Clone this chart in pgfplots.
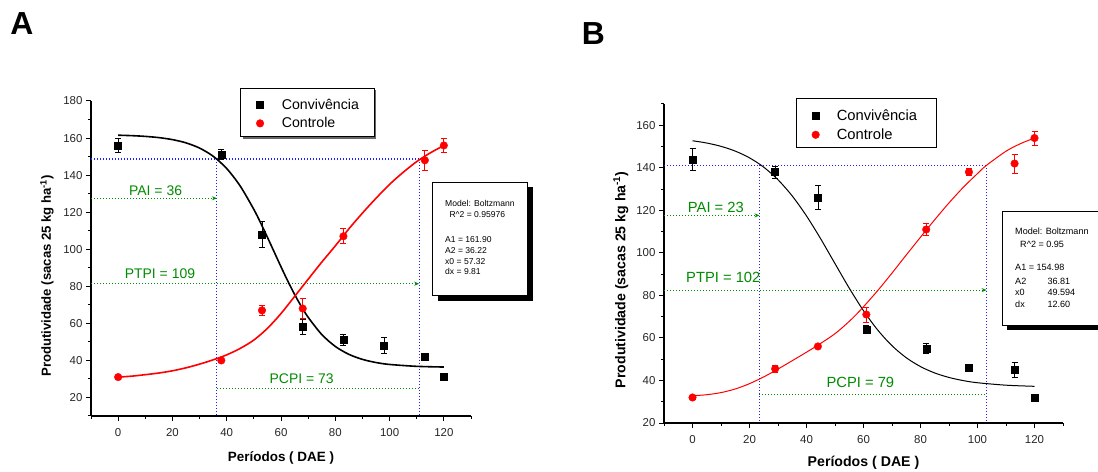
\documentclass[border=0pt]{standalone}
\usepackage{pgfplots}
\pgfplotsset{compat=1.18}
\usepackage{fontspec}
\setmainfont{Liberation Sans}
\usetikzlibrary{arrows.meta}
\definecolor{ored}{RGB}{255,0,0}
\definecolor{ogreen}{RGB}{0,140,0}
\definecolor{oblue}{RGB}{30,30,255}
\pgfplotsset{
 panel/.style={
  scale only axis,
  axis x line*=bottom, axis y line*=left,
  axis line style={line width=1.2bp,-},
  xmin=-10, xmax=130,
  xtick={0,20,...,120}, minor xtick={-10,10,...,130},
  tick align=outside,
  major tick length=5bp, minor tick length=3bp,
  every tick/.style={black, line width=1bp},
  tick label style={font=\fontsize{11.5}{13}\selectfont, text=black!85},
  xticklabel style={yshift=-3.5bp},
  /pgf/number format/assume math mode=true,
  xlabel={Períodos ( DAE )},
  ylabel={Produtividade (sacas 25 kg ha\textsuperscript{-1})},
  clip=false,
  legend cell align=left,
 },
 conv/.style={only marks, mark=square*, mark size=3.5bp, black,
   error bars/.cd, y dir=both, y explicit,
   error bar style={line width=0.8bp, black},
   error mark options={rotate=90, mark size=3bp, line width=0.8bp, black}},
 ctrl/.style={only marks, mark=*, mark size=3.8bp, ored, mark options={fill=ored, draw=ored},
   error bars/.cd, y dir=both, y explicit,
   error bar style={line width=0.8bp, ored},
   error mark options={rotate=90, mark size=3bp, line width=0.8bp, ored}},
 bl/.style={oblue, line width=1.1bp, dash pattern=on 1bp off 2bp, forget plot},
 gr/.style={ogreen, line width=1.1bp, dash pattern=on 1bp off 2bp, forget plot},
 gra/.style={gr, -{Stealth[length=5bp,width=4bp]}},
}
\begin{document}
\begin{tikzpicture}
\path[use as bounding box] (0bp,0bp) rectangle (1098bp,472bp);
% panel letters
\node[font=\fontsize{32}{36}\selectfont\bfseries] at (22bp,448bp) {A};
\node[font=\fontsize{32}{36}\selectfont\bfseries] at (593.5bp,438.5bp) {B};
% legend boxes
\fill[black!60] (242.7bp,381.7bp) rectangle (376.3bp,333.3bp);
\draw[fill=white, line width=0.8bp] (240.7bp,383.7bp) rectangle (374.3bp,335.3bp);
\draw[fill=white, line width=0.8bp] (796.7bp,373.7bp) rectangle (936.7bp,324.7bp);
% model boxes
\fill[black] (437.7bp,285bp) rectangle (533.3bp,171.3bp);
\draw[fill=white, line width=0.8bp] (432.7bp,289.7bp) rectangle (527.7bp,177bp);
\fill[black] (1006.7bp,256bp) rectangle (1115bp,142bp);
\draw[fill=white, line width=0.8bp] (1002.3bp,261bp) rectangle (1110bp,147bp);
\begin{scope}[font=\fontsize{8.6}{10}\selectfont, every node/.style={anchor=west, inner sep=0pt}]
\node at (445bp,268.7bp) {Model: Boltzmann};
\node at (449.3bp,257bp) {R\^{}2 = 0.95976};
\node at (445bp,232bp) {A1 = 161.90};
\node at (445bp,221.3bp) {A2 = 36.22};
\node at (445bp,210.6bp) {x0 = 57.32};
\node at (445bp,200.2bp) {dx = 9.81};
\end{scope}
\begin{scope}[font=\fontsize{9.1}{11}\selectfont, every node/.style={anchor=west, inner sep=0pt}]
\node at (1015bp,240.3bp) {Model: Boltzmann};
\node at (1020bp,228bp) {R\^{}2 = 0.95};
\node at (1015bp,204.7bp) {A1 = 154.98};
\node at (1015bp,191bp) {A2};   \node at (1047.3bp,191bp) {36.81};
\node at (1015bp,179.3bp) {x0}; \node at (1047.3bp,179.3bp) {49.594};
\node at (1015bp,167.7bp) {dx}; \node at (1047.3bp,167.7bp) {12.60};
\end{scope}

% ---------------- Panel A ----------------
\begin{axis}[panel,
  at={(91bp,56bp)}, anchor=south west, width=380bp, height=315bp,
  ymin=10, ymax=180, ytick={20,40,...,180}, minor ytick={10,30,...,170},
  xlabel style={font=\fontsize{13.5}{16}\selectfont\bfseries, at={(axis description cs:0.5,-0.132)}, anchor=center},
  ylabel style={font=\fontsize{13.2}{16}\selectfont\bfseries, at={(axis description cs:-0.116,0.445)}, anchor=center},
  legend style={draw=none, fill=none, font=\fontsize{14.2}{16}\selectfont,
    at={(axis description cs:0.4265,1.0196)}, anchor=north west, row sep=2.7bp,
    /tikz/every odd column/.append style={column sep=16bp}},
]
\addplot[bl] coordinates {(-10,148.7) (110.9,148.7)};
\addplot[bl] coordinates {(36.4,148.7) (36.4,10)};
\addplot[bl] coordinates {(110.9,148.7) (110.9,10)};
\addplot[gra] coordinates {(-10,127.5) (36.4,127.5)};
\addplot[gra] coordinates {(-10,81.4) (110.9,81.4)};
\addplot[gr] coordinates {(36.4,24.6) (110.9,24.6)};
\node[ogreen, font=\fontsize{14}{16}\selectfont] at (axis cs:13.8,131.4) {PAI = 36};
\node[ogreen, font=\fontsize{14}{16}\selectfont] at (axis cs:15.4,86.6) {PTPI = 109};
\node[ogreen, font=\fontsize{14}{16}\selectfont] at (axis cs:67.6,30) {PCPI = 73};
\addplot[black, line width=1.6bp, smooth, forget plot] coordinates {
 (0,161.54)(5,161.30)(10,160.90)(15,160.24)(20,159.16)(25,157.41)(30,154.59)(35,150.19)
 (40,143.55)(45,134.04)(50,121.47)(52.5,114.19)(55,106.46)(57.32,99.06)(60,90.53)(62.5,82.84)
 (65,75.65)(67.5,69.10)(70,63.29)(75,54.01)(80,47.55)(85,43.28)(90,40.56)(95,38.86)
 (100,37.82)(110,36.80)(120,36.43)};
\addplot[ored, line width=1.6bp, smooth, forget plot] coordinates {
 (0,31)(5,31.5)(10,32.3)(15,33.2)(20,34.4)(25,36)(30,38)(35,40.3)(40,43)(45,46.5)(50,51)
 (55,57.3)(60,65.3)(65,74.5)(70,83.8)(75,93)(80,101.8)(85,111)(90,119.5)(95,127.5)
 (100,135)(105,141.5)(110,147.3)(115,152)(120,156)};
\addplot[conv] coordinates {
 (0,156) +- (0,4) (38,151) +- (0,2.7) (53,108) +- (0,7) (68,58) +- (0,4)
 (83,51) +- (0,3) (98,48) +- (0,4.2) (113,42) +- (0,1) (120,31) +- (0,0)};
\addlegendentry{Convivência}
\addplot[ctrl] coordinates {
 (0,31) +- (0,0.8) (38,40) +- (0,1) (53,67) +- (0,2.7) (68,68) +- (0,5.5)
 (83,107) +- (0,4) (113,148) +- (0,5.5) (120,156) +- (0,4)};
\addlegendentry{Controle}
\end{axis}

% ---------------- Panel B ----------------
\begin{axis}[panel,
  at={(664bp,49bp)}, anchor=south west, width=399bp, height=319bp,
  ymin=20, ymax=170, ytick={20,40,...,160}, minor ytick={30,50,...,170},
  xlabel style={font=\fontsize{14.2}{17}\selectfont\bfseries, at={(axis description cs:0.5,-0.1245)}, anchor=center},
  ylabel style={font=\fontsize{14.2}{17}\selectfont\bfseries, at={(axis description cs:-0.108,0.449)}, anchor=center},
  legend style={draw=none, fill=none, font=\fontsize{14.8}{17}\selectfont,
    at={(axis description cs:0.3626,0.995)}, anchor=north west, row sep=2.7bp,
    /tikz/every odd column/.append style={column sep=15.3bp}},
]
\addplot[bl] coordinates {(-10,141.2) (103.2,141.2)};
\addplot[bl] coordinates {(23.5,141.2) (23.5,20)};
\addplot[bl] coordinates {(103.2,141.2) (103.2,20)};
\addplot[gra] coordinates {(-10,117.6) (23.5,117.6)};
\addplot[gra] coordinates {(-10,82.5) (103.2,82.5)};
\addplot[gr] coordinates {(23.5,33.6) (103.2,33.6)};
\node[ogreen, font=\fontsize{14.8}{17}\selectfont] at (axis cs:8.2,121.6) {PAI = 23};
\node[ogreen, font=\fontsize{14.8}{17}\selectfont] at (axis cs:10.8,88.3) {PTPI = 102};
\node[ogreen, font=\fontsize{14.8}{17}\selectfont] at (axis cs:58.9,38.9) {PCPI = 79};
\addplot[black, line width=1bp, smooth, forget plot] coordinates {
 (0,152.72)(5,151.65)(10,150.09)(15,147.85)(20,144.68)(25,140.29)(30,134.37)(35,126.74)
 (40,117.36)(45,106.55)(50,94.94)(55,83.41)(60,72.79)(65,63.69)(70,56.34)(75,50.69)
 (80,46.52)(85,43.52)(90,41.41)(95,39.94)(100,38.93)(110,37.78)(120,37.25)};
\addplot[ored, line width=1bp, smooth, forget plot] coordinates {
 (0,32.8)(5,33.3)(10,34.3)(15,36.0)(20,38.5)(25,41.7)(29,44.6)(35,49.3)(40,53.3)(44,56.6)
 (50,62)(55,67.8)(59,73.2)(65,82.3)(70,90.5)(75,99)(82,110.7)(86,117.2)(90,123.5)
 (95,130.8)(100,137.3)(103,141.0)(110,147.8)(115,151.3)(120,154)};
\addplot[conv] coordinates {
 (0,144) +- (0,5.2) (29,138) +- (0,2.8) (44,126) +- (0,5.7) (61,64) +- (0,2)
 (82,55) +- (0,2.3) (97,46) +- (0,1) (113,45) +- (0,3.6) (120,32) +- (0,0)};
\addlegendentry{Convivência}
\addplot[ctrl] coordinates {
 (0,32) +- (0,1) (29,45.5) +- (0,1.5) (44,56) +- (0,1) (61,71) +- (0,3.5)
 (82,111) +- (0,2.8) (97,138) +- (0,1.5) (113,142) +- (0,4.4) (120,154) +- (0,3.3)};
\addlegendentry{Controle}
\end{axis}
\end{tikzpicture}
\end{document}
